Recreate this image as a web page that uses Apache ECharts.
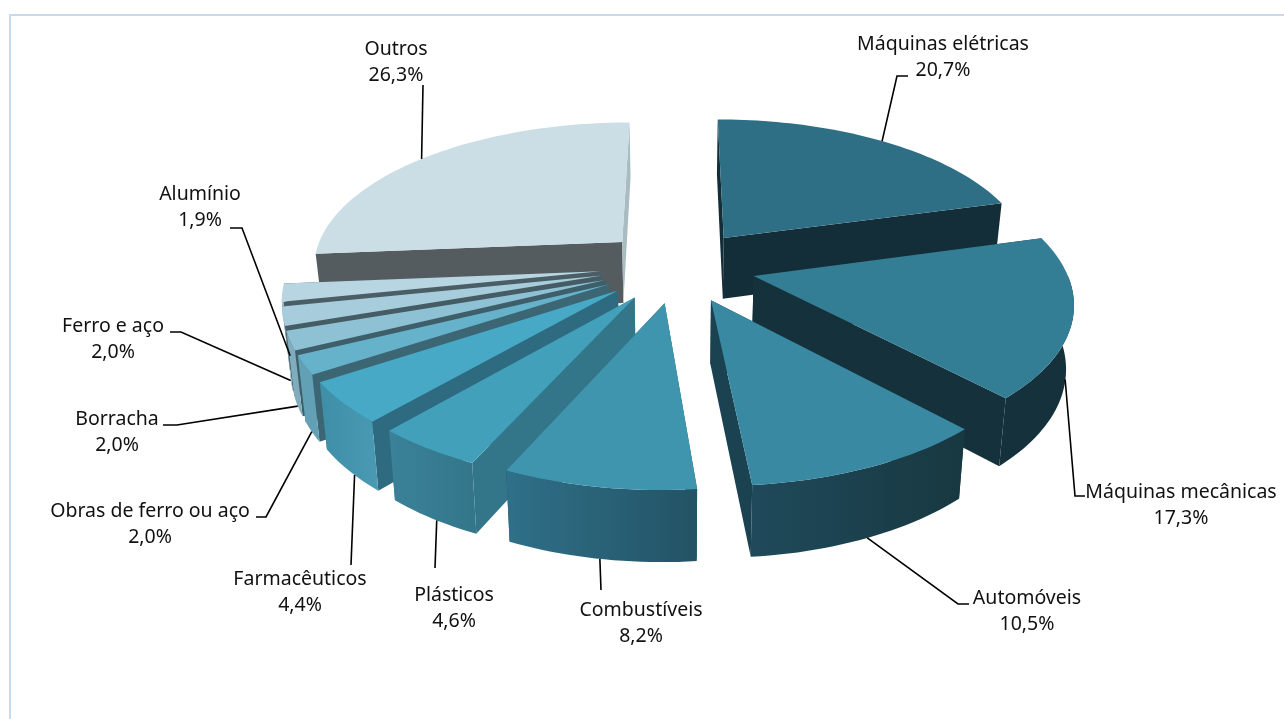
<!DOCTYPE html>
<html><head><meta charset="utf-8">
<script src="https://cdn.jsdelivr.net/npm/echarts@6/dist/echarts.min.js"></script>
<style>html,body{margin:0;padding:0;background:#fff}#c{width:1284px;height:719px}</style>
</head><body><div id="c"></div>
<script>
const categories = ['Máquinas elétricas','Máquinas mecânicas','Automóveis','Combustíveis','Plásticos','Farmacêuticos','Obras de ferro ou aço','Borracha','Ferro e aço','Alumínio','Outros'];
const values = [20.7,17.3,10.5,8.2,4.6,4.4,2.0,2.0,2.0,1.9,26.3];
// styling
const topColors = ['#2f6f85','#347e95','#3a89a3','#3f95ae','#42a0bb','#47a9c5','#67b2cb','#8fc1d4','#a7cddc','#b8d6e2','#cbdde5'];
const startWall = ['#132e38','#15323c','#1a3e4a','#235365','#33768a','#2e6b80','#3c6674','#3e5f6a','#465c65','#4b5e66','#555c5f'];
const endWall = ['#132e38','#15323c','#1b4250','#235365','#33768a','#2e6b80','#3c6674','#3e5f6a','#465c65','#4b5e66','#a9bcc2'];
const rimFrom = ['#15323c','#15323c','#1f4a5b','#2f7088','#3a8199','#3f8ea8','#62a0b6','#7fadbe','#8db9c9','#9cc4d3','#a9bcc2'];
const rimTo = ['#15323c','#15323c','#183840','#235365','#33768a','#4a9ab4','#62a0b6','#7fadbe','#8db9c9','#9cc4d3','#a9bcc2'];
const drawOrder = [10,0,9,8,7,6,5,4,3,1,2];
// annotation layout: label centre, elbow points, where on the slice the leader starts
const labelPos = [[943,57],[1181,505],[1027,611],[641,623],[454,608],[300,592],[150,524],[117,432],[113,339],[200,207],[396,62]];
const leaderBend = [[[897,76],[908,76]],[[1075,496],[1085,496]],[[958,604],[969,604]],[[601,590]],[[435,568]],[[351,565]],[[266,517],[256,517]],[[177,425],[163,425]],[[181,332],[170,332]],[[242,228],[230,228]],[[423,85]]];
const leaderDepth = [0,0.9,1,1,1,1,1,1,1,1,0];
const leaderFrac = [0.5,0.52,0.5,0.5,0.45,0.4,0.5,0.5,0.5,0.5,0.49];
// projection
const CX=678, CY=266, A=311, B=145, P=0.155, EXPL=0.25, DEPTH=62, K=0.98;
const RIM_FROM=Math.PI/2, RIM_TO=262/180*Math.PI;
const total = values.reduce((a,b)=>a+b,0);
const starts=[]; {let c=0; values.forEach(v=>{starts.push(c/total*2*Math.PI); c+=v;});}
function proj(u,v,d){
  const w=1/(1-P*v);
  let x=A*u*w, y=B*v*w;
  if(d){ x*=1-(1-K)*d; y+=DEPTH*Math.pow(w,0.7)*d; }
  return [CX+x,CY+y];
}
function pt(i,val,ang,r,d){
  const m=starts[i]+val/total*Math.PI;
  return proj(EXPL*Math.sin(m)+r*Math.sin(ang), -EXPL*Math.cos(m)-r*Math.cos(ang), d);
}
function grad(a,b){return new echarts.graphic.LinearGradient(0,0,1,0,[{offset:0,color:a},{offset:1,color:b}]);}
function renderItem(params,api){
  const i=params.dataIndex, val=api.value(1), a0=starts[i], a1=a0+val/total*2*Math.PI;
  const z=drawOrder.indexOf(i)*10+1;
  const poly=(points,fill,zz)=>({type:'polygon',shape:{points},style:{fill,stroke:null},z2:zz,silent:true});
  const arc=(from,to,d)=>{const n=Math.max(6,Math.round((to-from)*40)),o=[];for(let k=0;k<=n;k++)o.push(pt(i,val,from+(to-from)*k/n,1,d));return o;};
  const apexT=pt(i,val,a0,0,0), apexB=pt(i,val,a0,0,1);
  const kids=[
    poly([apexT,pt(i,val,a0,1,0),pt(i,val,a0,1,1),apexB],startWall[i],z),
    poly([apexT,pt(i,val,a1,1,0),pt(i,val,a1,1,1),apexB],endWall[i],z)
  ];
  const r0=Math.max(a0,RIM_FROM), r1=Math.min(a1,RIM_TO);
  if(r1>r0) kids.push(poly(arc(r0,r1,0).concat(arc(r0,r1,1).reverse()),grad(rimFrom[i],rimTo[i]),z+1));
  kids.push(poly([apexT].concat(arc(a0,a1,0)),topColors[i],z+2));
  // leader + label
  const s=pt(i,val,a0+(a1-a0)*leaderFrac[i],1,leaderDepth[i]);
  kids.push({type:'polyline',shape:{points:[s].concat(leaderBend[i])},style:{stroke:'#000',lineWidth:1.6,fill:null},z2:500,silent:true});
  kids.push({type:'text',x:labelPos[i][0],y:labelPos[i][1],z2:510,silent:true,style:{
    text:api.value(0)+'\n'+val.toFixed(1).replace('.',',')+'%',
    font:'19.5px "Noto Sans"',lineHeight:26,fill:'#111',align:'center',verticalAlign:'middle'}});
  return {type:'group',children:kids};
}
const chart=echarts.init(document.getElementById('c'));
chart.setOption({
  animation:false,
  backgroundColor:'#fff',
  graphic:[{type:'polyline',shape:{points:[[10,719],[10,15],[1284,15]]},style:{stroke:'#c9d9ec',lineWidth:2,fill:null},silent:true}],
  series:[{type:'custom',coordinateSystem:'none',renderItem,clip:false,
    data:categories.map((c,i)=>[c,values[i]])}]
});
</script></body></html>
